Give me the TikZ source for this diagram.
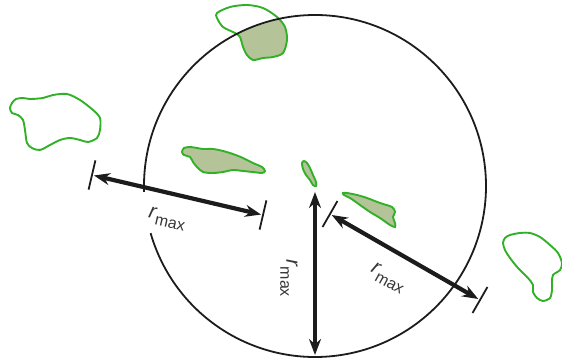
\documentclass[tikz,border=0pt]{standalone}
\usepackage{fontspec}
\setmainfont{Liberation Sans}
\usetikzlibrary{arrows.meta,calc}

\definecolor{blobline}{RGB}{50,176,40}
\definecolor{blobfill}{RGB}{180,196,152}
\definecolor{ink}{RGB}{28,28,28}
\definecolor{labelgray}{RGB}{55,55,55}

\newcommand{\rmx}{{\fontsize{21}{21}\selectfont\textit{r}}\raisebox{-6pt}{\fontsize{16}{16}\selectfont max}}

\begin{document}
\begin{tikzpicture}[x=1pt, y=-1pt,
    blob/.style={draw=blobline, line width=1.9pt},
    patch/.style={fill=blobfill},
    rim/.style={draw=ink, line width=1.8pt},
    dim/.style={{Stealth[length=16pt,width=12pt]}-{Stealth[length=16pt,width=12pt]}, draw=ink, line width=4.2pt, shorten <=2pt, shorten >=2pt},
    tick/.style={draw=ink, line width=1.8pt},
    lbl/.style={text=labelgray, inner sep=0pt}
]
\useasboundingbox (0,0) rectangle (562,361);

% search circle
\coordinate (ctr) at (315,186);

% patches, top one only shaded inside the circle
\begin{scope}
  \clip (ctr) circle (171);
  \fill[patch] plot[smooth cycle] coordinates {(217,13) (230,7) (247,5) (263,8) (277,17) (285,27) (287,40) (283,53) (273,57) (263,58) (253,60) (247,55) (243,47) (240,37) (235,33) (223,27) (217,18)};
\end{scope}
\draw[blob] plot[smooth cycle] coordinates {(217,13) (230,7) (247,5) (263,8) (277,17) (285,27) (287,40) (283,53) (273,57) (263,58) (253,60) (247,55) (243,47) (240,37) (235,33) (223,27) (217,18)};

\draw[blob] plot[smooth cycle] coordinates {(12,103) (16,99) (23,98) (30,99) (43,98) (53,95) (67,94) (80,100) (93,110) (100,118) (100,130) (97,138) (88,142) (80,140) (70,138) (60,140) (50,145) (40,150) (32,148) (27,143) (25,130) (23,120) (18,115) (12,113) (10,108)};

\draw[blob] plot[smooth cycle] coordinates {(505,238) (510,235) (520,233) (530,233) (540,237) (550,245) (558,253) (562,263) (560,270) (553,275) (552,282) (552,290) (550,298) (543,301) (537,298) (533,292) (533,285) (528,278) (518,268) (510,258) (505,250) (503,243)};

\draw[blob, patch] plot[smooth cycle] coordinates {(182,152) (184,148) (190,147) (197,148) (203,149) (213,149) (223,151) (233,154) (243,158) (253,163) (262,167) (265,171) (262,173) (253,172) (243,171) (233,170) (223,172) (213,173) (203,172) (197,167) (193,162) (190,157) (184,155)};

\draw[blob, patch] plot[smooth cycle] coordinates {(302,163) (304,161) (307,163) (310,168) (313,175) (316,182) (316,186) (313,185) (310,180) (306,175) (303,169)};

\draw[blob, patch] plot[smooth cycle] coordinates {(343,193) (347,193) (357,195) (367,198) (380,203) (392,207) (395,212) (393,217) (395,223) (395,227) (390,225) (380,218) (370,212) (360,205) (350,198) (344,195)};

% circle, open where the left label sits
\draw[rim] (ctr) ++(178:171) arc (178:524:171);

% distances
\coordinate (la) at (92,175);
\coordinate (lb) at (263,215);
\coordinate (va) at (315,190);
\coordinate (vb) at (315,357);
\coordinate (ra) at (330,214);
\coordinate (rb) at (480,300);

\draw[dim] (la) -- (lb);
\draw[tick] ($(la)!15pt!90:(lb)$) -- ($(la)!15pt!-90:(lb)$);
\draw[tick] ($(lb)!15pt!90:(la)$) -- ($(lb)!15pt!-90:(la)$);

\draw[dim] (va) -- (vb);

\draw[dim] (ra) -- (rb);
\draw[tick] ($(ra)!15pt!90:(rb)$) -- ($(ra)!15pt!-90:(rb)$);
\draw[tick] ($(rb)!15pt!90:(ra)$) -- ($(rb)!15pt!-90:(ra)$);

\node[lbl, rotate=-13] (lrmax) at (167,219) {\rmx};
\node[lbl, rotate=-90] (vrmax) at (289,278) {\rmx};
\node[lbl, rotate=-29] (rrmax) at (388,278) {\rmx};
\end{tikzpicture}
\end{document}
